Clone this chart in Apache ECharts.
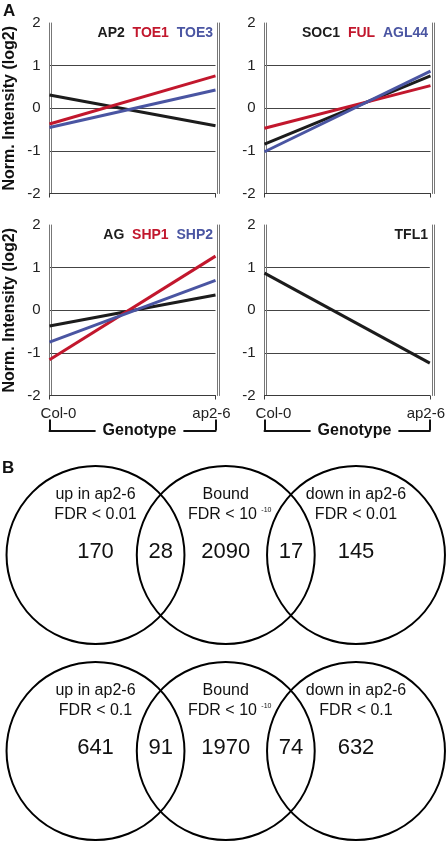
<!DOCTYPE html>
<html><head><meta charset="utf-8">
<script src="https://cdn.jsdelivr.net/npm/echarts@6/dist/echarts.min.js"></script>
<style>html,body{margin:0;padding:0;background:#fff}#c{width:448px;height:844px}</style>
</head><body><div id="c"></div>
<script>
// ---------- data ----------
const genotypes = ['Col-0', 'ap2-6'];
const xAxisTitle = 'Genotype';
const yAxisTitle = 'Norm. Intensity (log2)';
const yMin = -2, yMax = 2, yStep = 1;

const AP2   = [0.31, -0.41];
const TOE1  = [-0.37, 0.76];
const TOE3  = [-0.45, 0.43];
const SOC1  = [-0.84, 0.76];
const FUL   = [-0.47, 0.53];
const AGL44 = [-1.02, 0.87];
const AG    = [-0.37, 0.36];
const SHP1  = [-1.16, 1.27];
const SHP2  = [-0.75, 0.70];
const TFL1  = [0.87, -1.24];

const vennSetNames = ['up in ap2-6', 'Bound', 'down in ap2-6'];
const vennThresholdsStrict = ['FDR < 0.01', 'FDR < 10', 'FDR < 0.01'];
const vennThresholdsLoose  = ['FDR < 0.1',  'FDR < 10', 'FDR < 0.1'];
const boundExponent = '-10';
const vennCountsStrict = [170, 28, 2090, 17, 145];
const vennCountsLoose  = [641, 91, 1970, 74, 632];

// ---------- style / layout ----------
const FONT = '"Liberation Sans", Arial, Helvetica, sans-serif';
const BLACK = '#1c1c1c', RED = '#c2172d', BLUE = '#4a55a2';
const PANEL_W = 166, PANEL_H = 170.5, BRACKET_OFFSET = 35;

const panels = [
  {genes: [['AP2', AP2, BLACK, 'k'], ['TOE1', TOE1, RED, 'r'], ['TOE3', TOE3, BLUE, 'b']], left: 49.5, top: 23, yName: true, xLabels: false, legendRight: 235},
  {genes: [['SOC1', SOC1, BLACK, 'k'], ['FUL', FUL, RED, 'r'], ['AGL44', AGL44, BLUE, 'b']], left: 264.5, top: 23, yName: false, xLabels: false, legendRight: 20},
  {genes: [['AG', AG, BLACK, 'k'], ['SHP1', SHP1, RED, 'r'], ['SHP2', SHP2, BLUE, 'b']], left: 49.5, top: 225, yName: true, xLabels: true, legendRight: 235},
  {genes: [['TFL1', TFL1, BLACK, 'k']], left: 264.5, top: 225, yName: false, xLabels: true, legendRight: 20}
];

const grid = [], xAxis = [], yAxis = [], series = [], title = [];

title.push({text: 'A', left: 3, top: 3, padding: 0, textStyle: {fontSize: 17, fontWeight: 'bold', color: '#111', fontFamily: FONT}});
title.push({text: 'B', left: 2, top: 460, padding: 0, textStyle: {fontSize: 17, fontWeight: 'bold', color: '#111', fontFamily: FONT}});

const legendRich = {
  k: {color: BLACK, fontWeight: 'bold', fontSize: 14, fontFamily: FONT},
  r: {color: RED, fontWeight: 'bold', fontSize: 14, fontFamily: FONT},
  b: {color: BLUE, fontWeight: 'bold', fontSize: 14, fontFamily: FONT}
};

panels.forEach((p, i) => {
  grid.push({left: p.left, top: p.top, width: PANEL_W, height: PANEL_H});
  const xi = xAxis.length;
  xAxis.push({
    gridIndex: i, type: 'category', data: genotypes, boundaryGap: false,
    axisLine: {show: true, onZero: false, lineStyle: {color: '#3a3a3a', width: 1}},
    axisTick: {show: true, length: 4, lineStyle: {color: '#3a3a3a'}},
    axisLabel: {
      show: p.xLabels, margin: 11, color: '#222', fontSize: 15, fontFamily: FONT,
      formatter: (v, idx) => idx === 0 ? '{l|' + v + '}' : '{r|' + v + '}',
      rich: {
        l: {fontSize: 15, fontFamily: FONT, color: '#222', padding: [0, 0, 0, 18]},
        r: {fontSize: 15, fontFamily: FONT, color: '#222', padding: [0, 8, 0, 0]}
      }
    },
    splitLine: {show: false}
  });
  if (p.xLabels) {
    xAxis.push({
      gridIndex: i, type: 'category', data: genotypes, boundaryGap: false,
      position: 'bottom', offset: BRACKET_OFFSET,
      axisLine: {show: true, onZero: false, lineStyle: {color: '#111', width: 2}},
      axisTick: {show: true, inside: true, length: 11, lineStyle: {color: '#111', width: 2}},
      axisLabel: {show: false}, splitLine: {show: false}
    });
    title.push({
      text: xAxisTitle, left: p.left + PANEL_W / 2, textAlign: 'center',
      top: p.top + PANEL_H + BRACKET_OFFSET - 11, padding: [2, 7, 2, 7], backgroundColor: '#fff',
      textStyle: {fontSize: 16, fontWeight: 'bold', color: '#111', fontFamily: FONT, lineHeight: 18}
    });
  }
  const yi = yAxis.length;
  yAxis.push({
    gridIndex: i, type: 'value', min: yMin, max: yMax, interval: yStep, position: 'left',
    axisLine: {show: true, onZero: false, lineStyle: {color: '#777', width: 1}},
    axisTick: {show: false},
    axisLabel: {fontSize: 15, color: '#222', margin: 9, fontFamily: FONT},
    splitLine: {show: true, showMinLine: false, showMaxLine: false, lineStyle: {color: '#444', width: 1}},
    name: p.yName ? yAxisTitle : '',
    nameLocation: 'middle', nameRotate: 90, nameGap: 32,
    nameTextStyle: {fontSize: 16, fontWeight: 'bold', color: '#111', fontFamily: FONT}
  });
  [['left', -2], ['right', 2], ['right', 4]].forEach(([pos, off]) => {
    yAxis.push({
      gridIndex: i, type: 'value', min: yMin, max: yMax, interval: yStep, position: pos, offset: off,
      axisLine: {show: true, onZero: false, lineStyle: {color: '#777', width: 1}},
      axisTick: {show: false}, axisLabel: {show: false}, splitLine: {show: false}
    });
  });
  p.genes.forEach(([name, vals, color]) => {
    series.push({
      type: 'line', name, xAxisIndex: xi, yAxisIndex: yi, data: vals,
      symbol: 'none', silent: true, lineStyle: {width: 3, color}, itemStyle: {color}
    });
  });
  title.push({
    text: p.genes.map(g => '{' + g[3] + '|' + g[0] + '}').join('  '),
    right: p.legendRight, top: p.top + 3, padding: 0,
    textStyle: {rich: legendRich, fontSize: 14, fontFamily: FONT}
  });
});

// ---------- Venn ----------
const vg = grid.length;
grid.push({left: 0, right: 0, top: 455, bottom: 0});
const vxi = xAxis.length;
xAxis.push({gridIndex: vg, type: 'value', min: -0.7332, max: 2.7063, show: false});
const vyi = yAxis.length;
yAxis.push({gridIndex: vg, type: 'value', inverse: true, min: -0.5102, max: 1.4745, show: false});

const VENN_R = 0.683; // radius in x units
const setX = [0, 1, 2];
const regionX = [0, 0.5, 1, 1.5, 2];
const rows = [
  {thr: vennThresholdsStrict, counts: vennCountsStrict},
  {thr: vennThresholdsLoose, counts: vennCountsLoose}
];

const circleData = [];
rows.forEach((r, ri) => setX.forEach(sx => circleData.push([sx, ri])));

series.push({
  type: 'custom', xAxisIndex: vxi, yAxisIndex: vyi, silent: true, data: circleData,
  renderItem: (params, api) => {
    const c = api.coord([api.value(0), api.value(1)]);
    const rad = api.size([VENN_R, 0])[0];
    return {type: 'circle', shape: {cx: c[0], cy: c[1], r: rad},
      style: {fill: 'none', stroke: '#000', lineWidth: 2}};
  }
});

const vennLabels = [];
rows.forEach((r, ri) => {
  setX.forEach((sx, si) => {
    vennLabels.push({x: sx, row: ri, dy: -60, dx: 0, text: vennSetNames[si], size: 16});
    const isBound = si === 1;
    vennLabels.push({x: sx, row: ri, dy: -40, dx: isBound ? 4 : 0,
      text: isBound ? r.thr[si] + ' {sup|' + boundExponent + '}' : r.thr[si], size: 16});
  });
  regionX.forEach((rx, k) => {
    vennLabels.push({x: rx, row: ri, dy: -3, dx: 0, text: String(r.counts[k]), size: 22});
  });
});

series.push({
  type: 'custom', xAxisIndex: vxi, yAxisIndex: vyi, silent: true,
  data: vennLabels.map(l => [l.x, l.row]),
  renderItem: (params, api) => {
    const l = vennLabels[params.dataIndex];
    const c = api.coord([api.value(0), api.value(1)]);
    return {type: 'text', x: c[0] + l.dx, y: c[1] + l.dy,
      style: {text: l.text, fontSize: l.size, fontFamily: FONT, fill: '#111',
        align: 'center', verticalAlign: 'middle', textAlign: 'center', textVerticalAlign: 'middle',
        rich: {sup: {fontSize: 7, fontFamily: FONT, fill: '#111', verticalAlign: 'top'}}}};
  }
});

const chart = echarts.init(document.getElementById('c'));
chart.setOption({animation: false, backgroundColor: '#fff', title, grid, xAxis, yAxis, series});
</script></body></html>
